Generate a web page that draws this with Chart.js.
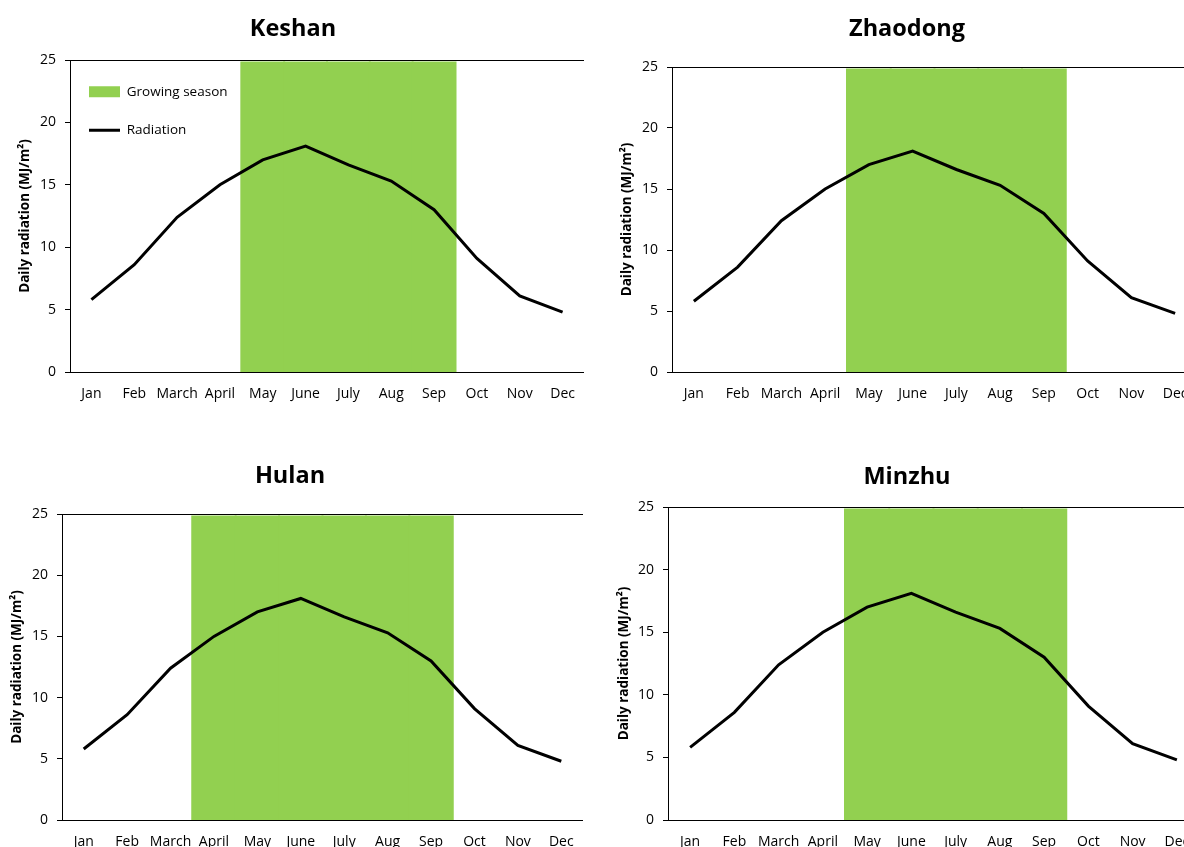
<!DOCTYPE html>
<html>
<head>
<meta charset="utf-8">
<script src="https://cdn.jsdelivr.net/npm/chart.js@4/dist/chart.umd.min.js"></script>
<style>
  html, body { margin: 0; padding: 0; background: #fff; }
  body { width: 1184px; height: 847px; overflow: hidden; position: relative; }
  .panel { position: absolute; }
</style>
</head>
<body>
<div class="panel" id="p1"><canvas id="keshan"></canvas></div>
<div class="panel" id="p2"><canvas id="zhaodong"></canvas></div>
<div class="panel" id="p3"><canvas id="hulan"></canvas></div>
<div class="panel" id="p4"><canvas id="minzhu"></canvas></div>
<script>
// month labels on the x axis
const months = ["Jan", "Feb", "March", "April", "May", "June", "July", "Aug", "Sep", "Oct", "Nov", "Dec"];

// daily radiation (MJ/m2)
const keshanRad   = [5.8, 8.6, 12.4, 15.0, 17.0, 18.1, 16.6, 15.3, 13.0, 9.1, 6.1, 4.8];
const zhaodongRad = [5.8, 8.6, 12.4, 15.0, 17.0, 18.1, 16.6, 15.3, 13.0, 9.1, 6.1, 4.8];
const hulanRad    = [5.8, 8.6, 12.4, 15.0, 17.0, 18.1, 16.6, 15.3, 13.0, 9.1, 6.1, 4.8];
const minzhuRad   = [5.8, 8.6, 12.4, 15.0, 17.0, 18.1, 16.6, 15.3, 13.0, 9.1, 6.1, 4.8];

// growing season band (height of the green block)
const keshanSeason   = [null, null, null, null, 24.8, 24.8, 24.8, 24.8, 24.8, null, null, null];
const zhaodongSeason = [null, null, null, null, 24.8, 24.8, 24.8, 24.8, 24.8, null, null, null];
const hulanSeason    = [null, null, null, 24.8, 24.8, 24.8, 24.8, 24.8, 24.8, null, null, null];
const minzhuSeason   = [null, null, null, null, 24.8, 24.8, 24.8, 24.8, 24.8, null, null, null];

const yMin = 0, yMax = 25, yStep = 5;

Chart.defaults.font.family = "'Open Sans', sans-serif";
Chart.defaults.color = "#000";

// box around the plot area (Chart.js only draws left/bottom)
const plotFrame = {
  id: "plotFrame",
  afterDatasetsDraw(chart) {
    const { ctx, chartArea: a } = chart;
    ctx.save();
    ctx.strokeStyle = "#000";
    ctx.lineWidth = 1;
    ctx.strokeRect(Math.round(a.left) + 0.5, Math.round(a.top) + 0.5,
                   Math.round(a.right) - Math.round(a.left), Math.round(a.bottom) - Math.round(a.top));
    ctx.restore();
  }
};

// put the legend in the top-left corner of the plot, like the original
const legendPlace = {
  id: "legendPlace",
  afterLayout(chart) {
    const lg = chart.legend;
    if (!chart.options.plugins.legend.display) return;
    const a = chart.chartArea;
    lg.left = a.left - 6;
    lg.right = a.right - 6;
    lg.top = a.top;
    lg.bottom = a.bottom;
  }
};

function makeChart(id, box, title, radiation, season, lay) {
  const holder = document.getElementById(box);
  holder.style.left = lay.left + "px";
  holder.style.top = lay.top + "px";
  holder.style.width = lay.width + "px";
  holder.style.height = lay.height + "px";

  return new Chart(document.getElementById(id), {
    type: "bar",
    data: {
      labels: months,
      datasets: [
        {
          type: "line",
          label: "Radiation",
          data: radiation,
          borderColor: "#000",
          backgroundColor: "#000",
          borderWidth: 3,
          pointRadius: 0,
          pointBorderWidth: 3,
          pointStyle: "line",
          tension: 0,
          fill: false,
        },
        {
          type: "bar",
          label: "Growing season",
          data: season,
          backgroundColor: "#92D050",
          borderColor: "#92D050",
          borderWidth: 0,
          inflateAmount: 1,
          pointStyle: "rect",
          barPercentage: 1,
          categoryPercentage: 1,
        },
      ],
    },
    options: {
      responsive: true,
      maintainAspectRatio: false,
      animation: false,
      layout: { padding: 0 },
      scales: {
        x: {
          grid: { display: true, drawOnChartArea: false, drawTicks: false },
          border: { display: true, color: "#000", width: 1 },
          ticks: { font: { size: 14 }, padding: 14, maxRotation: 0, autoSkip: false },
          afterFit(scale) {
            scale.height = 40;
            scale.paddingLeft = 0;
            scale.paddingRight = 0;
          },
        },
        y: {
          min: yMin,
          max: yMax,
          ticks: { stepSize: yStep, font: { size: 14 }, padding: 9 },
          grid: { drawOnChartArea: false, drawTicks: true, tickLength: 5, color: "#000" },
          border: { display: true, color: "#000", width: 1 },
          title: {
            display: true,
            text: "Daily radiation (MJ/m²)",
            font: { size: 13.5, weight: "bold" },
            padding: { top: lay.yTitlePad, bottom: 0 },
          },
          afterFit(scale) {
            scale.width = lay.yWidth;
            scale.paddingTop = 0;
            scale.paddingBottom = 0;
          },
        },
      },
      plugins: {
        title: {
          display: true,
          text: title,
          font: { size: 23.5, weight: "bold" },
          padding: { top: lay.titleTop, bottom: lay.titleBottom },
        },
        legend: {
          display: lay.legend,
          position: "chartArea",
          align: "start",
          labels: {
            usePointStyle: true,
            pointStyleWidth: 31,
            boxHeight: 11,
            padding: 25,
            font: { size: 13.5 },
            sort: (a, b) => b.datasetIndex - a.datasetIndex,
          },
        },
        tooltip: { enabled: false },
      },
    },
    plugins: [plotFrame, legendPlace],
  });
}

makeChart("keshan", "p1", "Keshan", keshanRad, keshanSeason,
  { left: 2, top: 0, width: 582, height: 412, yWidth: 68, yTitlePad: 14.9, titleTop: 14.9, titleBottom: 16.9, legend: true });
makeChart("zhaodong", "p2", "Zhaodong", zhaodongRad, zhaodongSeason,
  { left: 617, top: 0, width: 580, height: 412, yWidth: 55, yTitlePad: 1.9, titleTop: 14.9, titleBottom: 23.9, legend: false });
makeChart("hulan", "p3", "Hulan", hulanRad, hulanSeason,
  { left: -3, top: 440, width: 586, height: 420, yWidth: 65, yTitlePad: 11.9, titleTop: 21.9, titleBottom: 23.9, legend: false });
makeChart("minzhu", "p4", "Minzhu", minzhuRad, minzhuSeason,
  { left: 615, top: 440, width: 584, height: 420, yWidth: 53, yTitlePad: 0.9, titleTop: 22.9, titleBottom: 15.9, legend: false });
</script>
</body>
</html>
